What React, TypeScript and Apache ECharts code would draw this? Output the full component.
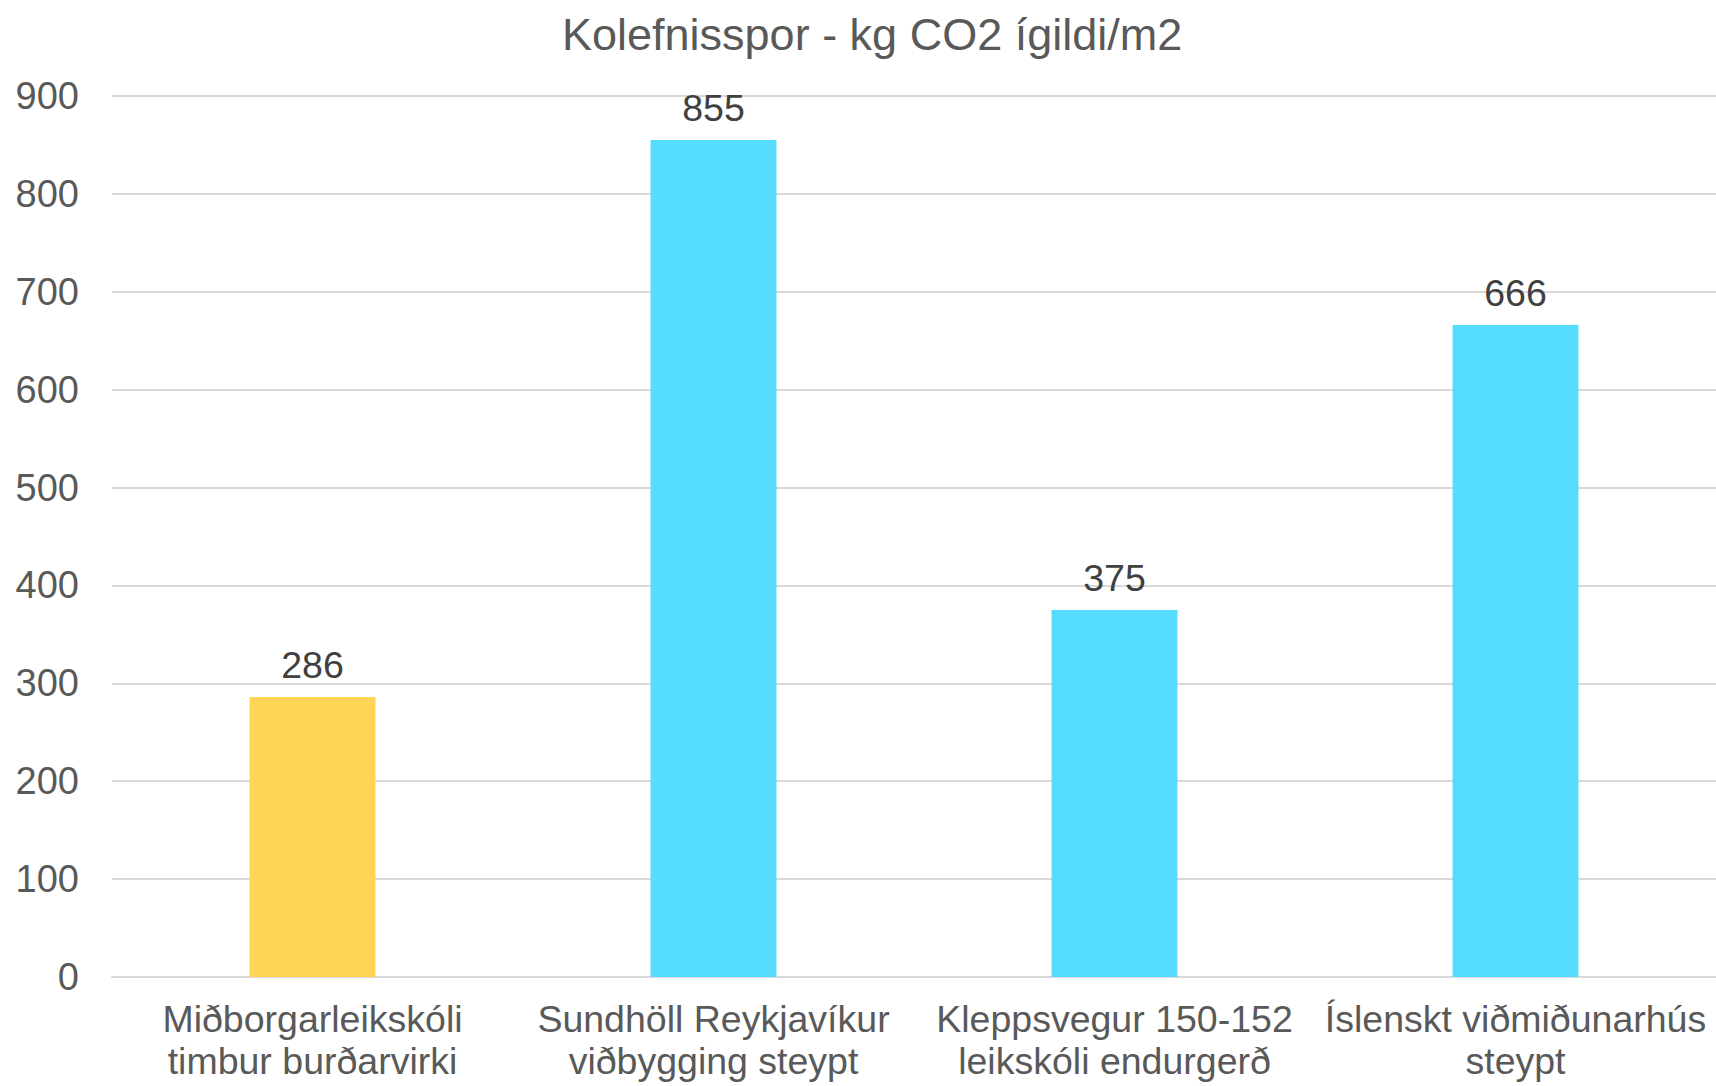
import React, { useEffect, useRef } from "react";
import * as echarts from "echarts";

const categories = [
  "Miðborgarleikskóli\ntimbur burðarvirki",
  "Sundhöll Reykjavíkur\nviðbygging steypt",
  "Kleppsvegur 150-152\nleikskóli endurgerð",
  "Íslenskt viðmiðunarhús\nsteypt",
];
const values = [286, 855, 375, 666];
const barColors = ["#FFD557", "#55DCFF", "#55DCFF", "#55DCFF"];
const titleText = "Kolefnisspor - kg CO2 ígildi/m2";

export default function App() {
  const ref = useRef<HTMLDivElement>(null);
  useEffect(() => {
    document.body.style.margin = "0";
    if (!ref.current) return;
    const chart = echarts.init(ref.current, null, { renderer: "svg" });
    const font = "'Liberation Sans', Arial, sans-serif";
    chart.setOption({
      animation: false,
      backgroundColor: "#ffffff",
      textStyle: { fontFamily: font },
      title: {
        text: titleText,
        left: 557,
        top: 7,
        textStyle: { fontFamily: font, fontSize: 45, fontWeight: "normal", color: "#595959" },
      },
      grid: { left: 112, right: 0, top: 96, bottom: 109, containLabel: false },
      xAxis: {
        type: "category",
        data: categories,
        axisLine: { show: true, lineStyle: { color: "#D9D9D9", width: 2 } },
        axisTick: { show: false },
        axisLabel: {
          fontFamily: font,
          fontSize: 37.5,
          color: "#595959",
          lineHeight: 42,
          margin: 21,
          interval: 0,
        },
      },
      yAxis: {
        type: "value",
        min: 0,
        max: 900,
        interval: 100,
        axisLine: { show: false },
        axisTick: { show: false },
        splitLine: { lineStyle: { color: "#D9D9D9", width: 2 } },
        axisLabel: { fontFamily: font, fontSize: 38, color: "#595959", margin: 33 },
      },
      series: [
        {
          type: "bar",
          barWidth: "31.4%",
          data: values.map((v, i) => ({ value: v, itemStyle: { color: barColors[i] } })),
          label: {
            show: true,
            position: "top",
            distance: 13,
            fontFamily: font,
            fontSize: 37.5,
            color: "#404040",
          },
        },
      ],
    });
    return () => chart.dispose();
  }, []);
  return <div ref={ref} style={{ width: 1716, height: 1086 }} />;
}
